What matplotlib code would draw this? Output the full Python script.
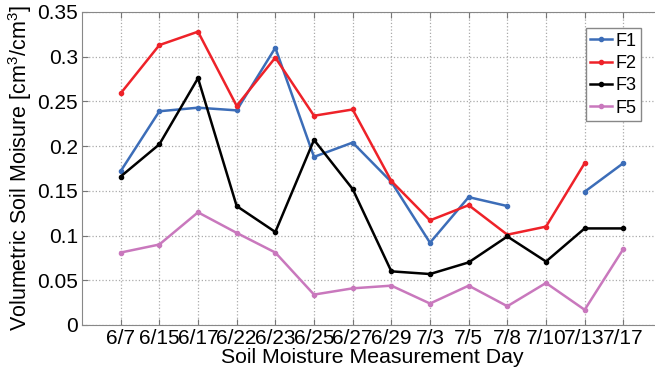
import numpy as np
import matplotlib
matplotlib.use('Agg')
import matplotlib.pyplot as plt
from matplotlib.ticker import FormatStrFormatter

plt.rcParams['font.family'] = ['Liberation Sans', 'DejaVu Sans']
plt.rcParams['mathtext.fontset'] = 'custom'
plt.rcParams['mathtext.rm'] = 'Liberation Sans'

days = ['6/7', '6/15', '6/17', '6/22', '6/23', '6/25', '6/27',
        '6/29', '7/3', '7/5', '7/8', '7/10', '7/13', '7/17']
nan = np.nan
f1 = [0.172, 0.239, 0.243, 0.240, 0.310, 0.188, 0.204,
      0.160, 0.092, 0.143, 0.133, nan, 0.149, 0.181]
f2 = [0.259, 0.313, 0.328, 0.245, 0.299, 0.234, 0.241,
      0.161, 0.117, 0.134, 0.101, 0.110, 0.181, nan]
f3 = [0.166, 0.202, 0.276, 0.133, 0.104, 0.207, 0.152,
      0.060, 0.057, 0.070, 0.099, 0.071, 0.108, 0.108]
f5 = [0.081, 0.090, 0.126, 0.103, 0.081, 0.034, 0.041,
      0.044, 0.024, 0.044, 0.021, 0.047, 0.017, 0.085]

x = np.arange(1, len(days) + 1)

fig = plt.figure(figsize=(6.55, 3.71), dpi=100)
ax = fig.add_axes([82/655, 46/371, 580/655, 313/371])

ax.plot(x, f1, color='#3c6db8', lw=1.8, marker='.', ms=6, label='F1')
ax.plot(x, f2, color='#ee2229', lw=1.8, marker='.', ms=6, label='F2')
ax.plot(x, f3, color='black', lw=1.8, marker='.', ms=6, label='F3')
ax.plot(x, f5, color='#c978bd', lw=1.8, marker='.', ms=6, label='F5')

ax.set_xlim(0, 15)
ax.set_ylim(0, 0.35)
ax.set_xticks(x)
ax.set_xticklabels(days)
ax.set_yticks(np.arange(0, 0.351, 0.05))
ax.yaxis.set_major_formatter(FormatStrFormatter('%g'))
ax.tick_params(direction='in', top=True, right=True, labelsize=15,
               length=4, color='#777777', pad=3)
for s in ax.spines.values():
    s.set_color('#888888')
ax.grid(True, ls=':', color='#aaaaaa', lw=0.9)

ax.set_xlabel('Soil Moisture Measurement Day', fontsize=15.3, labelpad=0)
ax.set_ylabel('Volumetric Soil Moisure [cm$^3$/cm$^3$]', fontsize=15.5, labelpad=2)

leg = ax.legend(loc='upper right', bbox_to_anchor=(641/655, 1 - 28/371),
                bbox_transform=fig.transFigure, fontsize=13, fancybox=False,
                framealpha=1, edgecolor='#888888', handlelength=1.2,
                handletextpad=0.2, borderpad=0.25, labelspacing=0.3,
                borderaxespad=0)
leg.get_frame().set_linewidth(1.0)

fig.savefig('out.png', dpi=100)
